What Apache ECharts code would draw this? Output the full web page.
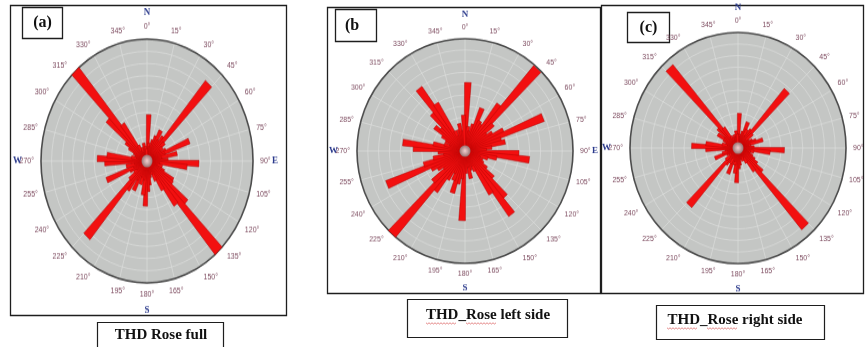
<!DOCTYPE html>
<html>
<head>
<meta charset="utf-8">
<script src="https://cdn.jsdelivr.net/npm/echarts/dist/echarts.min.js"></script>
<style>
  html, body { margin: 0; padding: 0; background: #ffffff; }
  #frame, .rose { position: absolute; left: 0; top: 0; width: 865px; height: 347px; }
  .rose { pointer-events: none; }
</style>
</head>
<body>
<div id="frame"></div>
<div id="roseA" class="rose"></div>
<div id="roseB" class="rose"></div>
<div id="roseC" class="rose"></div>
<script>
// 5-degree direction bins (start angle of each bin, clockwise from north)
const binStarts = [
  0, 5, 10, 15, 20, 25, 30, 35, 40, 45, 50, 55, 60, 65, 70, 75, 80, 85,
  90, 95, 100, 105, 110, 115, 120, 125, 130, 135, 140, 145, 150, 155, 160, 165, 170, 175,
  180, 185, 190, 195, 200, 205, 210, 215, 220, 225, 230, 235, 240, 245, 250, 255, 260, 265,
  270, 275, 280, 285, 290, 295, 300, 305, 310, 315, 320, 325, 330, 335, 340, 345, 350, 355
];

// THD rose, full record (relative frequency per bin, 100 = outer ring)
const roseFull = [
  38, 15, 12, 18, 22, 28, 20, 25, 86, 22, 18, 15, 20, 43, 18, 29, 14, 20,
  49, 38, 12, 15, 10, 18, 29, 30, 50, 100, 45, 28, 18, 12, 10, 14, 20, 25,
  37, 28, 16, 20, 14, 27, 18, 30, 84, 22, 15, 12, 18, 41, 14, 20, 12, 40,
  47, 38, 15, 10, 12, 14, 20, 25, 50, 100, 38, 15, 10, 12, 8, 15, 12, 10
];

// THD rose, left side
const roseLeft = [
  61, 22, 18, 25, 41, 30, 28, 52, 99, 35, 25, 30, 40, 78, 35, 38, 25, 20,
  50, 60, 30, 22, 15, 18, 20, 25, 35, 55, 71, 45, 20, 15, 18, 25, 15, 20,
  62, 25, 30, 39, 28, 22, 30, 45, 100, 40, 25, 30, 35, 78, 40, 30, 20, 25,
  48, 58, 30, 20, 15, 20, 25, 35, 30, 45, 70, 50, 20, 15, 20, 25, 18, 32
];

// THD rose, right side
const roseRight = [
  30, 12, 10, 15, 24, 18, 12, 20, 67, 18, 10, 12, 15, 18, 24, 12, 10, 15,
  43, 30, 15, 12, 10, 15, 18, 22, 30, 92, 25, 15, 10, 12, 8, 10, 15, 18,
  30, 22, 15, 12, 24, 15, 10, 18, 67, 15, 10, 8, 12, 23, 15, 10, 12, 30,
  43, 30, 15, 10, 12, 15, 22, 15, 25, 94, 22, 12, 10, 8, 12, 10, 15, 12
];

// Compass tick labels around each rose
const compassDegrees = [
  '0°', '15°', '30°', '45°', '60°', '75°', '90°', '105°', '120°', '135°', '150°', '165°',
  '180°', '195°', '210°', '225°', '240°', '255°', '270°', '285°', '300°', '315°', '330°', '345°'
];
const cardinalPoints = ['N', 'E', 'S', 'W'];

// Panel titles and captions
const panelTags = ['(a)', '(b', '(c)'];
const captions = ['THD Rose full', 'THD_Rose left side', 'THD_Rose right side'];

const GRID_LINE = '#dcdedc';
const PLATE = '#c4c6c4';

// Each petal runs from the centre out to its bin value along the bin's mid
// direction; it widens outward like a sector but keeps a small base width.
function petal(baseHalf, spread) {
  return function (params, api) {
    const v = api.value(0);
    const idx = api.value(1);
    if (!(v > 0)) return null;
    const c = api.coord([0, idx]);
    const tip = api.coord([v, idx]);
    const dx = tip[0] - c[0], dy = tip[1] - c[1];
    const len = Math.sqrt(dx * dx + dy * dy) || 1;
    const ux = -dy / len, uy = dx / len;
    const h0 = baseHalf, h1 = baseHalf + len * spread;
    return {
      type: 'polygon',
      shape: { points: [
        [c[0] + ux * h0, c[1] + uy * h0], [tip[0] + ux * h1, tip[1] + uy * h1],
        [tip[0] - ux * h1, tip[1] - uy * h1], [c[0] - ux * h0, c[1] - uy * h0]
      ] },
      style: { fill: '#f21010', stroke: '#a80000', lineWidth: 0.45 }
    };
  };
}

function roseOption(values, cx, cy, r) {
  const centre = [cx, cy];
  return {
    animation: false,
    polar: [
      { center: centre, radius: r },
      { center: centre, radius: r },
      { center: centre, radius: r }
    ],
    angleAxis: [
      {
        polarIndex: 0, type: 'category', data: binStarts,
        startAngle: 90, clockwise: true, boundaryGap: true,
        axisLine: { show: true, lineStyle: { color: '#4c4c4c', width: 1.6 } },
        axisTick: { show: false }, axisLabel: { show: false },
        splitLine: { show: true, interval: 2, lineStyle: { color: GRID_LINE, width: 0.7 } }
      },
      {
        polarIndex: 1, type: 'value', min: 0, max: 360, interval: 15,
        startAngle: 90, clockwise: true,
        axisLine: { show: false }, axisTick: { show: false }, splitLine: { show: false },
        axisLabel: {
          margin: 7, fontSize: 7, color: '#7d4b5f', fontFamily: 'Liberation Sans',
          formatter: v => (v >= 360 ? '' : compassDegrees[Math.round(v / 15)])
        }
      },
      {
        polarIndex: 2, type: 'value', min: 0, max: 360, interval: 90,
        startAngle: 90, clockwise: true,
        axisLine: { show: false }, axisTick: { show: false }, splitLine: { show: false },
        axisLabel: {
          margin: 19, fontSize: 9, fontWeight: 'bold', color: '#2b3a8c',
          fontFamily: 'Liberation Serif',
          formatter: v => (v >= 360 ? '' : cardinalPoints[Math.round(v / 90)])
        }
      }
    ],
    radiusAxis: [
      {
        polarIndex: 0, type: 'value', min: 0, max: 100, interval: 10,
        axisLine: { show: false }, axisTick: { show: false }, axisLabel: { show: false },
        splitLine: { show: true, lineStyle: { color: GRID_LINE, width: 0.7 } }
      },
      { polarIndex: 1, type: 'value', min: 0, max: 100, show: false },
      { polarIndex: 2, type: 'value', min: 0, max: 100, show: false }
    ],
    series: [
      {
        // plate behind the grid
        type: 'pie', center: centre, radius: [0, r], z: -1, silent: true,
        label: { show: false }, labelLine: { show: false },
        data: [{ value: 1, itemStyle: { color: PLATE } }]
      },
      {
        type: 'custom', coordinateSystem: 'polar', polarIndex: 0,
        encode: { radius: 0, angle: 1 },
        data: values.map((v, i) => [v, i]),
        renderItem: petal(0.8, Math.tan(2.2 * Math.PI / 180))
      },
      {
        type: 'scatter', coordinateSystem: 'polar', polarIndex: 0,
        data: [[0, 0]], symbol: 'circle', symbolSize: 11, z: 5,
        itemStyle: {
          color: new echarts.graphic.RadialGradient(0.5, 0.5, 0.5, [
            { offset: 0, color: '#ffffff' },
            { offset: 0.45, color: '#cfcfcf' },
            { offset: 1, color: '#8c8c8c' }
          ])
        }
      }
    ]
  };
}

// Each rose sits in its own layer so the plate can be stretched vertically
function drawRose(id, values, cx, cy, r, stretch) {
  const el = document.getElementById(id);
  el.style.transformOrigin = cx + 'px ' + cy + 'px';
  el.style.transform = 'scaleY(' + stretch + ')';
  const chart = echarts.init(el, null, { renderer: 'canvas' });
  chart.setOption(roseOption(values, cx, cy, r));
}

drawRose('roseA', roseFull, 147, 161, 106, 1.15);
drawRose('roseB', roseLeft, 465, 151, 108, 1.04);
drawRose('roseC', roseRight, 738, 148, 108, 1.07);

// Frames, panel tags and captions
function box(x, y, w, h, lw) {
  return { type: 'rect', shape: { x: x, y: y, width: w, height: h },
           style: { fill: 'none', stroke: '#1e1e1e', lineWidth: lw } };
}
function label(text, x, y, size) {
  return { type: 'text', style: { text: text, x: x, y: y, align: 'center', verticalAlign: 'middle',
           font: 'bold ' + size + 'px "Liberation Serif"', fill: '#111111' } };
}
function squiggle(x0, x1, y) {
  const pts = [];
  for (let x = x0, k = 0; x <= x1; x += 1.5, k++) pts.push([x, y + (k % 2 ? 1 : -0.2)]);
  return { type: 'polyline', shape: { points: pts }, style: { stroke: '#d23a3a', lineWidth: 0.6, fill: 'none' } };
}

const frame = echarts.init(document.getElementById('frame'));
frame.setOption({
  animation: false,
  graphic: [
    box(10.5, 5.5, 276, 310, 1.3),
    box(327.5, 7.5, 273, 286, 1.3),
    box(601.5, 5.5, 262, 288, 1.3),
    box(22.5, 7.5, 40, 31, 1.3), label(panelTags[0], 42.5, 23, 16),
    box(335.5, 9.5, 41, 32, 1.3), label(panelTags[1], 352, 25.5, 16),
    box(627.5, 12.5, 42, 30, 1.3), label(panelTags[2], 648.5, 28, 16),
    box(97.5, 322.5, 126, 30, 1.2), label(captions[0], 161, 335, 15),
    box(407.5, 299.5, 160, 38, 1.2), label(captions[1], 488, 315, 15),
    box(656.5, 305.5, 168, 34, 1.2), label(captions[2], 735, 320, 15),
    squiggle(426, 457, 323), squiggle(466, 497, 323),
    squiggle(667, 698, 328), squiggle(707, 738, 328)
  ]
});
</script>
</body>
</html>
